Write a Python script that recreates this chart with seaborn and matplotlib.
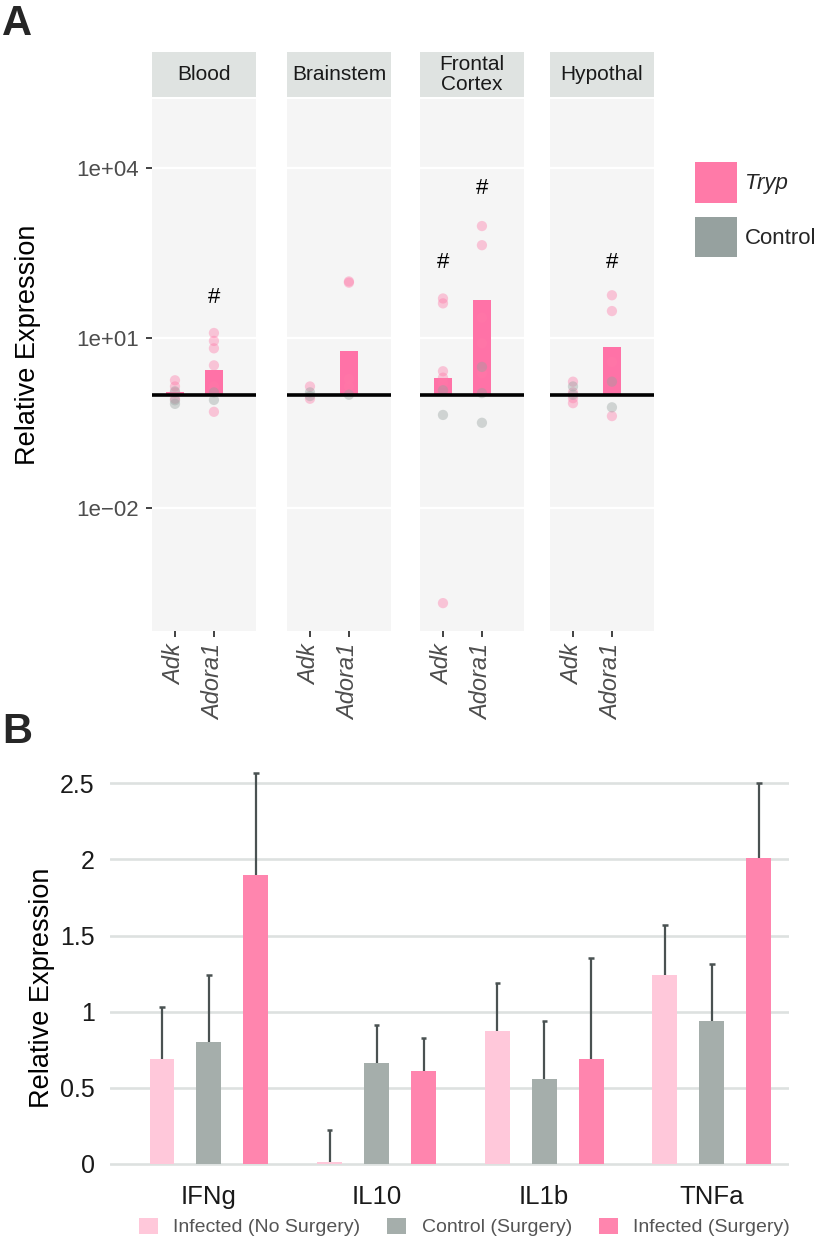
import numpy as np
import pandas as pd
import seaborn as sns
import matplotlib.pyplot as plt
from matplotlib.patches import Patch
from matplotlib.ticker import FixedLocator, FixedFormatter, NullLocator

# ---------------- panel A data ----------------
tissues = ["Blood", "Brainstem", "Frontal\nCortex", "Hypothal"]
genes = ["Adk", "Adora1"]
bar_adk = [1.1, 1.02, 2.0, 1.05]
bar_adora1 = [2.7, 5.9, 47, 6.9]

# points per tissue (same order as tissues)
adk_tryp = [[1.8, 1.4, 1.1, 0.85], [1.4, 0.85], [50, 41, 2.6, 2.0, 1.6, 2.1e-4], [1.7, 1.1, 0.87, 0.71]]
adk_ctrl = [[1.15, 0.8, 0.69], [1.1, 0.95], [1.2, 0.44], [1.4, 1.0]]
adora1_tryp = [[12.3, 8.9, 6.6, 3.3, 1.4, 0.5], [100, 95, 1.9, 1.4], [950, 436, 23, 8.1, 2.4], [57, 30, 3.8, 0.42]]
adora1_ctrl = [[1.1, 0.81], [1.0], [3.1, 1.07, 0.32], [1.7, 0.6]]

sig_tissue = [0, 2, 2, 3]
sig_gene = ["Adora1", "Adk", "Adora1", "Adora1"]
sig_y = [53, 218, 4300, 218]

ytick_vals = [1e-2, 1e1, 1e4]
ytick_labels = ["1e\u221202", "1e+01", "1e+04"]

# ---------------- panel B data ----------------
cytokines = ["IFNg", "IL10", "IL1b", "TNFa"]
groups = ["Infected (No Surgery)", "Control (Surgery)", "Infected (Surgery)"]
mean_inf_nosurg = [0.69, 0.01, 0.87, 1.24]
mean_ctrl_surg = [0.80, 0.66, 0.56, 0.94]
mean_inf_surg = [1.90, 0.61, 0.69, 2.01]
sem_inf_nosurg = [0.34, 0.21, 0.32, 0.33]
sem_ctrl_surg = [0.44, 0.25, 0.38, 0.37]
sem_inf_surg = [0.67, 0.22, 0.66, 0.49]

PINK = "#ff7aa8"
GREY = "#96a19f"
BAR_A = "#ff72a7"
B_COLORS = ["#ffc8da", "#a5aeab", "#ff85ae"]

sns.set_theme(style="white")
plt.rcParams["font.family"] = ["Liberation Sans", "DejaVu Sans"]

W, H = 822, 1238
fig = plt.figure(figsize=(W / 100, H / 100), dpi=100)


def fx(px):
    return px / W


def fy(py):
    return 1 - py / H


# ---------------- panel A ----------------
facet_left = [152, 287, 420, 550]
facet_w = 104
top_px, bot_px = 99, 631

for i, tissue in enumerate(tissues):
    ax = fig.add_axes([fx(facet_left[i]), fy(bot_px), fx(facet_w), (bot_px - top_px) / H])
    ax.set_facecolor("#f5f5f5")
    ax.set_yscale("log")

    bars = pd.DataFrame({"gene": genes, "value": [bar_adk[i], bar_adora1[i]]})
    sns.barplot(data=bars, x="gene", y="value", order=genes, color=BAR_A, saturation=1,
                width=0.46, errorbar=None, linewidth=0, ax=ax, zorder=2)
    # bars in a log scale grow from 1 (log 0)
    for p in ax.patches:
        h = p.get_height()
        p.set_y(1)
        p.set_height(h - 1)

    rows = []
    for v in adk_tryp[i]:
        rows.append(("Adk", "Tryp", v))
    for v in adk_ctrl[i]:
        rows.append(("Adk", "Control", v))
    for v in adora1_tryp[i]:
        rows.append(("Adora1", "Tryp", v))
    for v in adora1_ctrl[i]:
        rows.append(("Adora1", "Control", v))
    pts = pd.DataFrame(rows, columns=["gene", "group", "value"])
    sns.stripplot(data=pts, x="gene", y="value", hue="group", order=genes,
                  hue_order=["Tryp", "Control"], palette=[PINK, GREY], jitter=False,
                  size=7.4, alpha=0.4, linewidth=0, legend=False, ax=ax, zorder=3)

    ax.axhline(1, color="black", lw=2.6, zorder=4)

    for t, g, y in zip(sig_tissue, sig_gene, sig_y):
        if t == i:
            ax.text(genes.index(g), y, "#", ha="center", va="center", fontsize=16,
                    color="black", zorder=5)

    ax.set_xlim(-0.59, 2.08)
    ax.set_ylim(10 ** -4.17, 10 ** 5.22)
    ax.yaxis.set_major_locator(FixedLocator(ytick_vals))
    ax.yaxis.set_minor_locator(NullLocator())
    ax.grid(axis="y", which="major", color="white", lw=1.6)
    ax.set_axisbelow(True)
    for s in ax.spines.values():
        s.set_visible(False)
    ax.set_xlabel("")
    ax.set_ylabel("")
    ax.tick_params(axis="x", bottom=True, length=4.3, width=1.3, color="#333333",
                   pad=5, labelsize=17, labelcolor="#4d4d4d")
    for lab in ax.get_xticklabels():
        lab.set_rotation(90)
        lab.set_style("italic")
        lab.set_va("top")
        lab.set_ha("center")
    if i == 0:
        ax.yaxis.set_major_formatter(FixedFormatter(ytick_labels))
        ax.tick_params(axis="y", left=True, length=4.3, width=1.3, color="#333333",
                       pad=5, labelsize=16, labelcolor="#4d4d4d")
    else:
        ax.tick_params(axis="y", left=False, labelleft=False)

    # facet strip
    sax = fig.add_axes([fx(facet_left[i]), fy(97), fx(facet_w), 45 / H])
    sax.set_facecolor("#dfe3e1")
    sax.set_xticks([])
    sax.set_yticks([])
    for s in sax.spines.values():
        s.set_visible(False)
    sax.text(0.5, 0.5, tissue, ha="center", va="center", fontsize=15, color="#1a1a1a",
             linespacing=1.1, transform=sax.transAxes)

fig.text(fx(28), fy(345), "Relative Expression", rotation=90, ha="center", va="center",
         fontsize=19.5, color="black")

legA = fig.legend(handles=[Patch(facecolor=PINK, edgecolor="none", label="Tryp"),
                           Patch(facecolor=GREY, edgecolor="none", label="Control")],
                  loc="upper left", bbox_to_anchor=(fx(695), fy(162)), frameon=False,
                  fontsize=16, handlelength=1.9, handleheight=2.45, labelspacing=0.62,
                  handletextpad=0.36, borderpad=0, borderaxespad=0)
legA.get_texts()[0].set_style("italic")

fig.text(fx(2), fy(4), "A", fontsize=30, fontweight="bold", ha="left", va="top")
fig.text(fx(2), fy(712), "B", fontsize=30, fontweight="bold", ha="left", va="top")

# ---------------- panel B ----------------
dfb = pd.DataFrame({
    "cytokine": cytokines * 3,
    "group": [g for g in groups for _ in cytokines],
    "value": mean_inf_nosurg + mean_ctrl_surg + mean_inf_surg,
    "sem": sem_inf_nosurg + sem_ctrl_surg + sem_inf_surg,
})

axb = fig.add_axes([fx(110), fy(1170), fx(679), 402 / H])
axb.set_facecolor("white")
sns.barplot(data=dfb, x="cytokine", y="value", hue="group", order=cytokines, hue_order=groups,
            palette=B_COLORS, saturation=1, width=0.84, gap=0.47, errorbar=None,
            linewidth=0, legend=False, ax=axb, zorder=2)

for gi, cont in enumerate(axb.containers):
    sems = dfb[dfb["group"] == groups[gi]].set_index("cytokine").loc[cytokines, "sem"].values
    for bar, se in zip(cont, sems):
        xc = bar.get_x() + bar.get_width() / 2
        top = bar.get_height()
        axb.vlines(xc, top, top + se, color="#4a5252", lw=1.6, zorder=3)
        axb.hlines(top + se, xc - 0.016, xc + 0.016, color="#4a5252", lw=1.8, zorder=3)

axb.set_xlim(-0.59, 3.46)
axb.set_ylim(-0.04, 2.6)
axb.set_yticks([0, 0.5, 1, 1.5, 2, 2.5])
axb.set_yticklabels(["0", "0.5", "1", "1.5", "2", "2.5"])
axb.grid(axis="y", color="#dde1e0", lw=1.9)
axb.set_axisbelow(True)
for s in axb.spines.values():
    s.set_visible(False)
axb.set_xlabel("")
axb.set_ylabel("")
axb.tick_params(axis="y", left=False, pad=5, labelsize=18, labelcolor="#1a1a1a")
axb.tick_params(axis="x", bottom=False, pad=5, labelsize=18.5, labelcolor="#1a1a1a")

fig.text(fx(42), fy(988), "Relative Expression", rotation=90, ha="center", va="center",
         fontsize=19.5, color="black")

legB = fig.legend(handles=[Patch(facecolor=c, edgecolor="none", label=g) for c, g in zip(B_COLORS, groups)],
                  loc="center left", bbox_to_anchor=(fx(139), fy(1227)), ncol=3, frameon=False,
                  fontsize=14, handlelength=0.96, handleheight=0.9, handletextpad=0.8,
                  columnspacing=1.39, borderpad=0, borderaxespad=0)
for t in legB.get_texts():
    t.set_color("#555555")

fig.savefig("out.png", dpi=100)
